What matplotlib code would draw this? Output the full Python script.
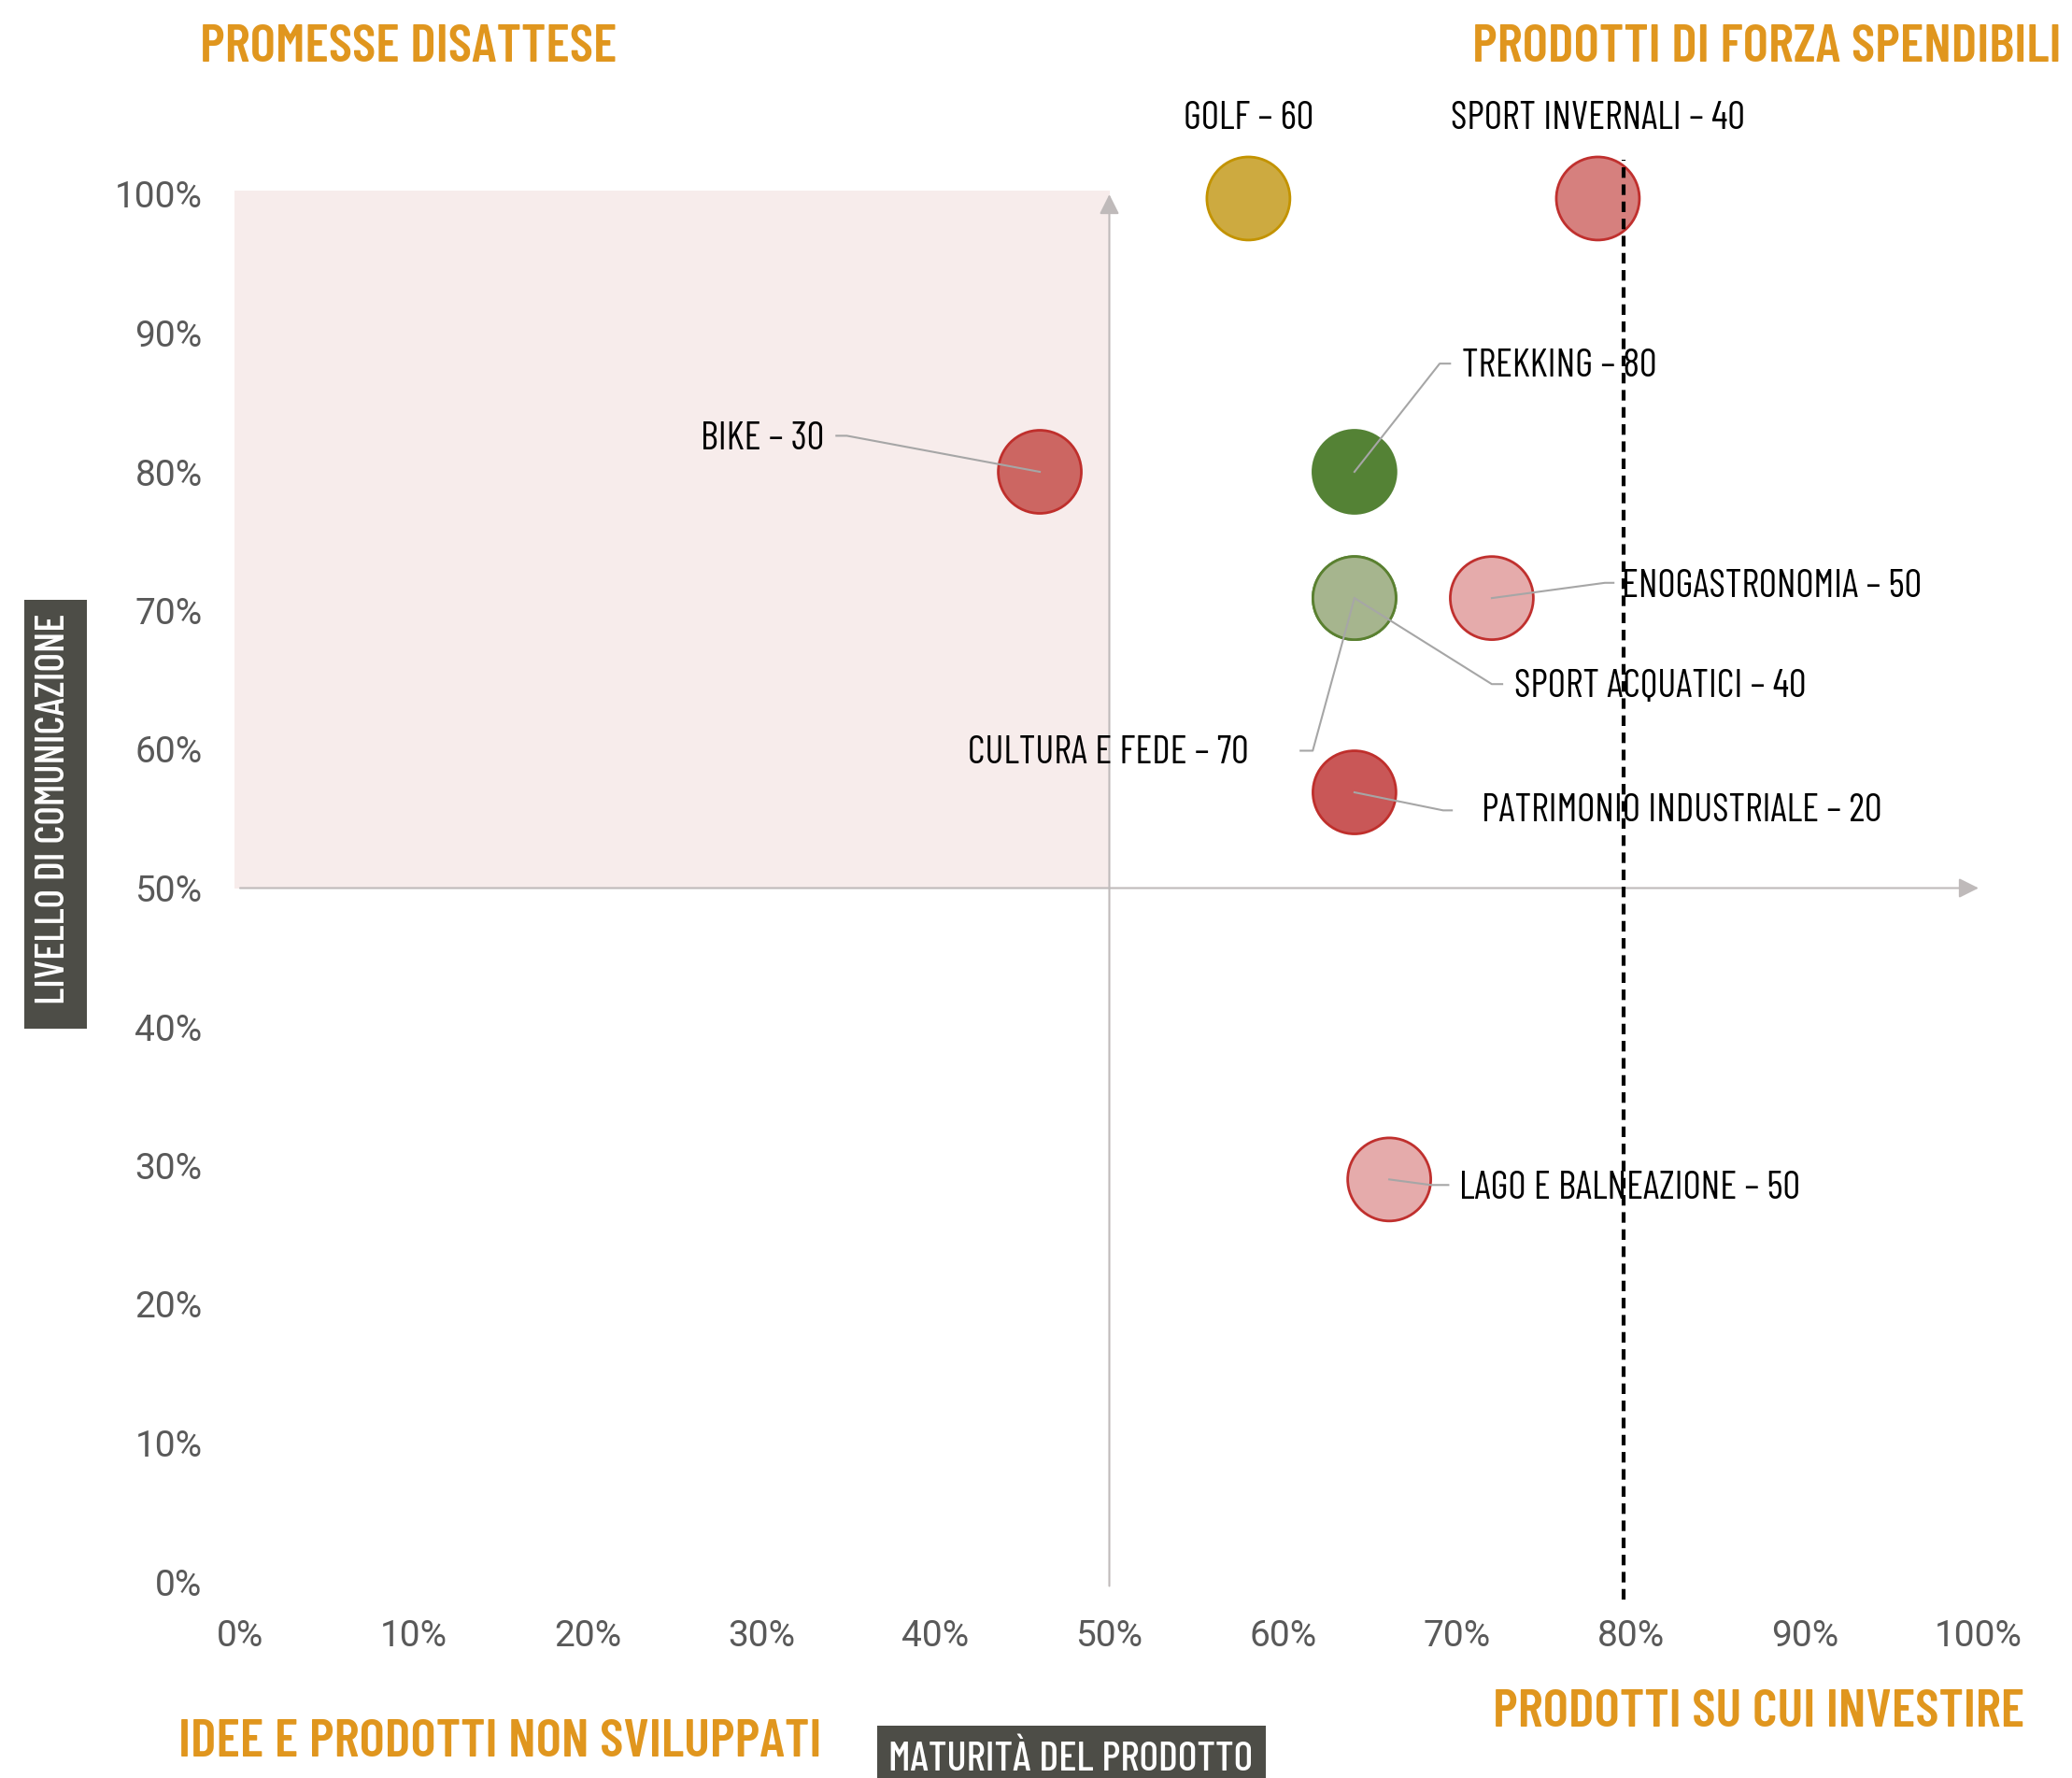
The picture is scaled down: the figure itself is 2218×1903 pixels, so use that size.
import matplotlib.pyplot as plt
from matplotlib.patches import Rectangle

# ── Data ───────────────────────────────────────────────────
products = ["GOLF", "SPORT INVERNALI", "BIKE", "TREKKING", "CULTURA E FEDE",
            "SPORT ACQUATICI", "ENOGASTRONOMIA", "PATRIMONIO INDUSTRIALE",
            "LAGO E BALNEAZIONE"]
scores = [60, 40, 30, 80, 70, 40, 50, 20, 50]
maturity = [58.0, 78.1, 46.0, 64.1, 64.1, 64.1, 72.0, 64.1, 66.1]
communication = [99.7, 99.7, 80.0, 80.0, 70.9, 70.9, 70.9, 56.9, 29.0]

fill_colors = ["#CDAA40", "#D6807E", "#CC6662", "#548235", "#A9C08A",
               "#A6B58E", "#E5ABAB", "#C95757", "#E5ABAB"]
edge_colors = ["#C39300", "#C0302E", "#BF2F2C", "#548235", "#548235",
               "#5A8030", "#C0302E", "#BF2F2C", "#C0302E"]

ticks = list(range(0, 101, 10))
tick_labels = [f"{t}%" for t in ticks]
threshold = 79.6

# label layout: text x, baseline y, alignment, leader elbow (x, y, end x)
label_layout = {
    "GOLF":                   (58.0, 104.7, "center", None),
    "SPORT INVERNALI":        (78.1, 104.7, "center", None),
    "BIKE":                   (33.6, 81.6, "right", (34.9, 82.6, 34.3)),
    "TREKKING":               (70.3, 86.9, "left", (69.0, 87.8, 69.6)),
    "CULTURA E FEDE":         (58.0, 59.0, "right", (61.7, 59.9, 61.0)),
    "SPORT ACQUATICI":        (73.3, 63.8, "left", (72.0, 64.7, 72.6)),
    "ENOGASTRONOMIA":         (79.5, 71.0, "left", (78.5, 72.0, 79.0)),
    "PATRIMONIO INDUSTRIALE": (71.4, 54.8, "left", (69.2, 55.6, 69.7)),
    "LAGO E BALNEAZIONE":     (70.1, 27.6, "left", (68.5, 28.6, 69.5)),
}

NARROW = ["Barlow Condensed", "DejaVu Sans"]
ORANGE = "#E0961E"
DARK = "#4D4D47"
W, H = 2218, 1903

fig = plt.figure(figsize=(W / 100, H / 100), dpi=100)
ax = fig.add_axes([257 / W, 1 - 1693 / H, 1861 / W, 1485 / H])
ax.set_xlim(0, 100)
ax.set_ylim(0, 100)

# quadrant shading + axes arrows
ax.add_patch(Rectangle((-0.3, 50), 50.3, 50.3, facecolor="#F7ECEB",
                       edgecolor="none", zorder=0, clip_on=False))
arrow = dict(arrowstyle="-|>", color="#BFBABA", lw=1.5, mutation_scale=32,
             shrinkA=0, shrinkB=0)
ax.annotate("", xy=(100, 50), xytext=(0, 50), arrowprops=arrow,
            annotation_clip=False, zorder=1)
ax.annotate("", xy=(50, 100), xytext=(50, -0.3), arrowprops=arrow,
            annotation_clip=False, zorder=1)

# bubbles
ax.scatter(maturity, communication, s=4100, c=fill_colors,
           edgecolors=edge_colors, linewidths=2, zorder=3, clip_on=False)

# labels and leaders
for name, score, x, y in zip(products, scores, maturity, communication):
    tx, ty, ha, leader = label_layout[name]
    if leader is not None:
        ex, ey, hx = leader
        ax.plot([x, ex, hx], [y, ey, ey], color="#A6A6A6", lw=1.5,
                zorder=4, clip_on=False)
    ax.text(tx, ty, f"{name} – {score}", ha=ha, va="baseline",
            fontsize=30, family=NARROW, color="black", zorder=5,
            clip_on=False)

# threshold line
ax.plot([threshold, threshold], [-1.3, 102.5], color="black", lw=3,
        ls=(0, (2.7, 1.7)), zorder=6, clip_on=False)

# ticks
ax.set_xticks(ticks, tick_labels)
ax.set_yticks(ticks, tick_labels)
ax.tick_params(axis="both", length=0, pad=29, labelsize=28,
               labelcolor="#595959")
for lab in ax.get_xticklabels() + ax.get_yticklabels():
    lab.set_fontfamily("Roboto")
    lab.set_fontweight("normal")
for sp in ax.spines.values():
    sp.set_visible(False)

# quadrant titles
titles = [("PROMESSE DISATTESE", 214, 66, "left"),
          ("PRODOTTI DI FORZA SPENDIBILI", 2207, 66, "right"),
          ("IDEE E PRODOTTI NON SVILUPPATI", 191, 1880, "left"),
          ("PRODOTTI SU CUI INVESTIRE", 1598, 1848, "left")]
for txt, px, py, ha in titles:
    fig.text(px / W, 1 - py / H, txt, ha=ha, va="baseline", fontsize=42,
             fontweight=600, family=NARROW, color=ORANGE)

# axis title boxes
fig.patches.append(Rectangle((26 / W, 1 - 1101 / H), 67 / W, 459 / H,
                             transform=fig.transFigure, facecolor=DARK,
                             edgecolor="none"))
fig.text(58 / W, 1 - 866 / H, "LIVELLO DI COMUNICAZIONE", rotation=90,
         ha="center", va="center", fontsize=32, fontweight=500,
         family=NARROW, color="white")
fig.patches.append(Rectangle((939 / W, 0), 416 / W, 56 / H,
                             transform=fig.transFigure, facecolor=DARK,
                             edgecolor="none"))
fig.text(1146 / W, 1 - 1895 / H, "MATURITÀ DEL PRODOTTO", ha="center",
         va="baseline", fontsize=32, fontweight=500, family=NARROW,
         color="white")

fig.savefig("out.png", dpi=100)
